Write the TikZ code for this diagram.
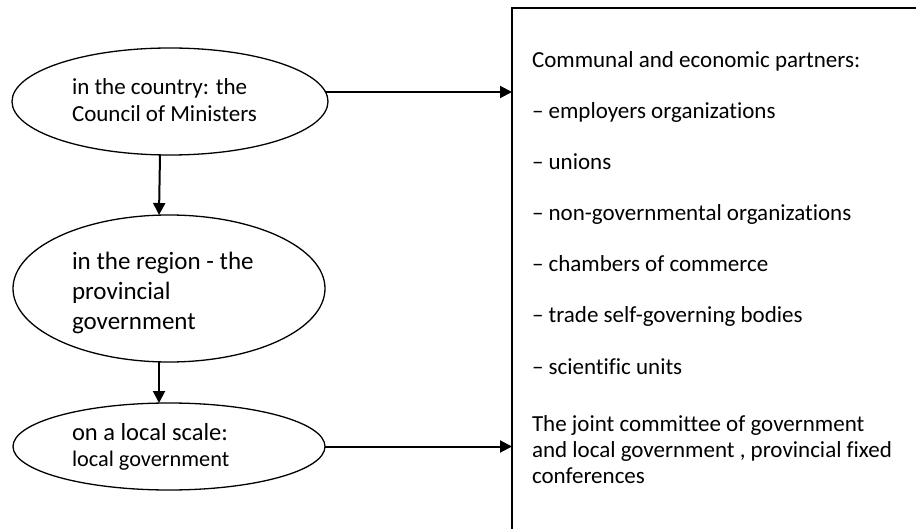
\documentclass[tikz,border=0pt]{standalone}
\usepackage{fontspec}
\setmainfont{Carlito}[Ligatures=CommonOff]
\usetikzlibrary{shapes.geometric,arrows.meta,calc}
\begin{document}
\begin{tikzpicture}[x=1pt,y=-1pt,
  oval/.style={draw, ellipse, line width=1.3pt, inner sep=0pt, outer sep=0pt},
  txt/.style={anchor=base west, inner sep=0pt, outer sep=0pt, text=black},
  boxtxt/.style={txt, font=\fontsize{23}{26}\selectfont},
  arr/.style={line width=2pt, -{Triangle[length=12pt,width=12pt]}},
  frame/.style={draw, line width=1.8pt, inner sep=0pt, outer sep=0pt, anchor=north west}
]
\useasboundingbox (0,0) rectangle (916,529);
\clip (0,0) rectangle (916,529);
\fill[white] (0,0) rectangle (916,529);

% frame on the right (runs off the page)
\node[frame, minimum width=600pt, minimum height=700pt] (box) at (512,8) {};

% ovals
\node[oval, minimum width=316pt, minimum height=107pt] (e1) at (170,101.5) {};
\node[oval, minimum width=312pt, minimum height=147pt] (e2) at (169,288.5) {};
\node[oval, minimum width=312pt, minimum height=87pt] (e3) at (169,446.5) {};

% oval texts
\node[txt, font=\fontsize{23}{27}\selectfont] (t1a) at (72,95) {in the country: the};
\node[txt, font=\fontsize{23}{27}\selectfont] (t1b) at (72,122) {Council of Ministers};
\node[txt, font=\fontsize{25}{30}\selectfont] (t2a) at (72,270) {in the region - the};
\node[txt, font=\fontsize{25}{30}\selectfont] (t2b) at (72,300) {provincial};
\node[txt, font=\fontsize{25}{30}\selectfont] (t2c) at (72,330) {government};
\node[txt, font=\fontsize{24.5}{27}\selectfont] (t3a) at (72,440) {on a local scale:};
\node[txt, font=\fontsize{22.3}{27}\selectfont] (t3b) at (72,466) {local government};

% box texts
\node[boxtxt] (b0) at (532,68) {Communal and economic partners:};
\node[boxtxt] (b1) at (532,119) {– employers organizations};
\node[boxtxt] (b2) at (532,170) {– unions};
\node[boxtxt] (b3) at (532,221) {– non-governmental organizations};
\node[boxtxt] (b4) at (532,272) {– chambers of commerce};
\node[boxtxt] (b5) at (532,323) {– trade self-governing bodies};
\node[boxtxt] (b6) at (532,374) {– scientific units};
\node[boxtxt] (b7) at (532,431) {The joint committee of government};
\node[boxtxt] (b8) at (532,457) {and local government , provincial fixed};
\node[boxtxt] (b9) at (532,483) {conferences};

% connectors
\coordinate (a1) at ($(e1.center)+(155.5,-9.5)$);
\draw[arr] (a1) -- (a1 -| box.west);
\draw[arr] (e3.east) -- (e3.east -| box.west);
\draw[arr] ([xshift=-10pt]e1.south) -- ([xshift=-10pt]e2.north);
\draw[arr] ([xshift=-10pt]e2.south) -- ([xshift=-10pt]e3.north);
\end{tikzpicture}
\end{document}
